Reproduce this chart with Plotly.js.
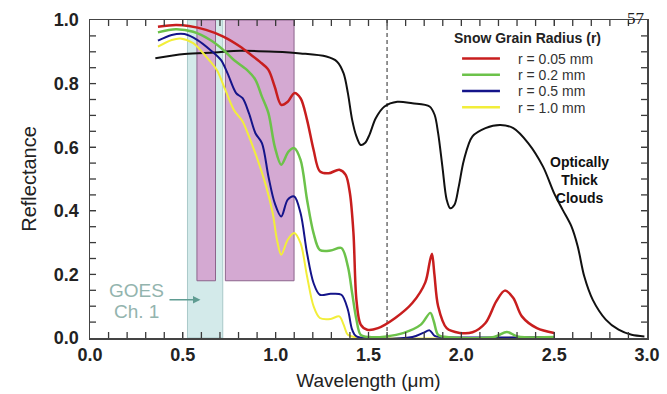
<!DOCTYPE html>
<html>
<head>
<meta charset="utf-8">
<script src="https://cdn.plot.ly/plotly-3.0.1.min.js"></script>
<style>html,body{margin:0;padding:0;background:#fff;}#chart{width:667px;height:394px;}</style>
</head>
<body>
<div id="chart"></div>
<script>
// ---- data ----
const cloudX = [0.352,0.509,0.671,0.81,0.995,1.134,1.273,1.331,1.366,1.389,1.412,1.435,1.458,1.481,1.505,1.539,1.586,1.655,1.736,1.829,1.856,1.875,1.898,1.921,1.94,1.963,1.986,2.014,2.06,2.13,2.21,2.28,2.36,2.44,2.5,2.546,2.593,2.627,2.662,2.708,2.778,2.847,2.917,2.986];
const cloudY = [0.880,0.893,0.898,0.903,0.900,0.895,0.885,0.869,0.832,0.770,0.686,0.634,0.607,0.613,0.639,0.691,0.728,0.743,0.738,0.728,0.702,0.644,0.539,0.435,0.408,0.419,0.476,0.560,0.634,0.660,0.670,0.660,0.613,0.539,0.455,0.403,0.351,0.288,0.194,0.120,0.058,0.026,0.010,0.005];

const r005X = [0.366,0.463,0.532,0.625,0.718,0.81,0.868,0.914,0.961,0.995,1.03,1.065,1.1,1.134,1.169,1.204,1.238,1.285,1.343,1.377,1.4,1.419,1.435,1.458,1.493,1.551,1.644,1.736,1.806,1.83,1.842,1.855,1.875,1.921,1.991,2.06,2.13,2.188,2.234,2.28,2.326,2.407,2.5];
const r005Y = [0.979,0.984,0.981,0.969,0.948,0.916,0.890,0.869,0.843,0.790,0.733,0.743,0.770,0.754,0.686,0.592,0.524,0.518,0.529,0.513,0.455,0.330,0.120,0.042,0.026,0.031,0.063,0.110,0.175,0.240,0.265,0.200,0.100,0.031,0.016,0.018,0.047,0.115,0.149,0.126,0.068,0.031,0.016];

const r02X = [0.366,0.463,0.556,0.648,0.718,0.775,0.845,0.891,0.926,0.961,0.995,1.03,1.069,1.1,1.134,1.169,1.204,1.238,1.296,1.354,1.389,1.412,1.435,1.458,1.505,1.597,1.69,1.782,1.833,1.852,1.875,1.921,2.176,2.245,2.303,2.5];
const r02Y = [0.961,0.971,0.963,0.937,0.906,0.874,0.843,0.812,0.759,0.707,0.602,0.545,0.586,0.597,0.560,0.435,0.330,0.277,0.275,0.283,0.225,0.141,0.058,0.010,0.003,0.005,0.016,0.042,0.079,0.052,0.010,0.003,0.003,0.019,0.005,0.003];

const r05X = [0.366,0.44,0.509,0.579,0.648,0.706,0.741,0.787,0.822,0.856,0.891,0.926,0.961,0.995,1.03,1.065,1.1,1.134,1.169,1.204,1.238,1.296,1.354,1.389,1.412,1.435,1.736,1.794,1.829,1.856,1.898,2.5];
const r05Y = [0.935,0.953,0.956,0.937,0.906,0.874,0.832,0.770,0.754,0.707,0.644,0.613,0.508,0.424,0.382,0.435,0.445,0.393,0.267,0.173,0.136,0.139,0.136,0.089,0.026,0.005,0.003,0.016,0.024,0.007,0.003,0.003];

const r10X = [0.366,0.44,0.486,0.556,0.625,0.683,0.729,0.775,0.822,0.856,0.903,0.949,0.984,1.007,1.03,1.065,1.1,1.134,1.169,1.204,1.238,1.296,1.343,1.366,1.389,1.424,2.5];
const r10Y = [0.916,0.937,0.942,0.927,0.885,0.843,0.780,0.717,0.681,0.634,0.560,0.476,0.393,0.309,0.262,0.309,0.330,0.298,0.194,0.100,0.063,0.060,0.068,0.042,0.010,0.003,0.003];

const seriesNames = ['r = 0.05 mm','r = 0.2 mm','r = 0.5 mm','r = 1.0 mm'];
const legendTitle = 'Snow Grain Radius (r)';
const cloudLabel = 'Optically<br>Thick<br>Clouds';
const goesLabel = ['GOES','Ch. 1'];
const goesBand = [0.525, 0.715];
const visBands = [[0.576, 0.676], [0.729, 1.099]];
const visBandBottom = 0.18;
const markerLine = 1.6;
const xLabelTicks = [0.0, 0.5, 1.0, 1.5, 2.0, 2.5, 3.0];
const yLabelTicks = [0.0, 0.2, 0.4, 0.6, 0.8, 1.0];
const xTickStep = 0.1, yTickStep = 0.05;

// ---- styling ----
const colors = ['#c81e1e','#6cc24a','#14148a','#f2ee3a'];
const widths = [2.5,2.5,2,2];
const xs = [r005X, r02X, r05X, r10X];
const ys = [r005Y, r02Y, r05Y, r10Y];
const tickColor = '#3a3a3a';

const traces = [{
  x: cloudX, y: cloudY, type: 'scatter', mode: 'lines',
  line: {color: '#111111', width: 2, shape: 'spline', smoothing: 0.9},
  showlegend: false, hoverinfo: 'skip'
}];
for (let i = 3; i >= 0; i--) {
  traces.push({
    x: xs[i], y: ys[i], type: 'scatter', mode: 'lines', name: seriesNames[i],
    line: {color: colors[i], width: widths[i], shape: 'spline', smoothing: 0.9},
    showlegend: false, hoverinfo: 'skip'
  });
}

const shapes = [];
shapes.push({type:'rect', xref:'x', yref:'y', x0: goesBand[0], x1: goesBand[1], y0: 0, y1: 1,
  fillcolor:'#d3eaea', line:{color:'#a9c9c9', width:1}, layer:'below'});
visBands.forEach(b => shapes.push({type:'rect', xref:'x', yref:'y', x0: b[0], x1: b[1], y0: visBandBottom, y1: 1,
  fillcolor:'#d4a9d2', line:{color:'#8c648c', width:1}, layer:'below'}));
shapes.push({type:'line', xref:'x', yref:'y', x0: markerLine, x1: markerLine, y0: 0, y1: 1,
  line:{color:'#707070', width:1.5, dash:'4px,3px'}, layer:'below'});

// inward tick marks on all four sides (drawn as shapes)
const tlx = 6 / 318, tly = 6 / 557;
for (let k = 1; k < Math.round(3 / xTickStep); k++) {
  const v = +(k * xTickStep).toFixed(2);
  shapes.push({type:'line', xref:'x', yref:'paper', x0: v, x1: v, y0: 0, y1: tlx, line:{color: tickColor, width: 1.3}});
  shapes.push({type:'line', xref:'x', yref:'paper', x0: v, x1: v, y0: 1, y1: 1 - tlx, line:{color: tickColor, width: 1.3}});
}
for (let k = 1; k < Math.round(1 / yTickStep); k++) {
  const v = +(k * yTickStep).toFixed(2);
  shapes.push({type:'line', xref:'paper', yref:'y', x0: 0, x1: tly, y0: v, y1: v, line:{color: tickColor, width: 1.3}});
  shapes.push({type:'line', xref:'paper', yref:'y', x0: 1, x1: 1 - tly, y0: v, y1: v, line:{color: tickColor, width: 1.3}});
}

// legend (manual)
const legX0 = 0.668, legX1 = 0.736, legTextX = 0.767;
const legY = [0.879, 0.828, 0.777, 0.726];
const annotations = [];
annotations.push({xref:'paper', yref:'paper', x: 0.786, y: 0.943, text: '<b>'+legendTitle+'</b>', showarrow:false,
  font:{family:'Liberation Sans, Arial, sans-serif', size:14, color:'#222'}, xanchor:'center', yanchor:'middle'});
seriesNames.forEach((n, i) => {
  shapes.push({type:'line', xref:'paper', yref:'paper', x0: legX0, x1: legX1, y0: legY[i], y1: legY[i],
    line:{color: colors[i], width: 2.5}});
  annotations.push({xref:'paper', yref:'paper', x: legTextX, y: legY[i], text: n, showarrow:false,
    font:{family:'Liberation Sans, Arial, sans-serif', size:14, color:'#333'}, xanchor:'left', yanchor:'middle',
    height: 15, borderpad: 0});
});

annotations.push({xref:'x', yref:'y', x: 2.635, y: 0.497, text: '<b>'+cloudLabel+'</b>', showarrow:false,
  font:{family:'Liberation Sans, Arial, sans-serif', size:14, color:'#111'}, align:'center', xanchor:'center', yanchor:'middle'});
annotations.push({xref:'x', yref:'y', x: 0.248, y: 0.148, text: goesLabel[0], showarrow:false,
  font:{family:'Liberation Sans, Arial, sans-serif', size:19, color:'#93b4ae'}, xanchor:'center', yanchor:'middle'});
annotations.push({xref:'x', yref:'y', x: 0.248, y: 0.082, text: goesLabel[1], showarrow:false,
  font:{family:'Liberation Sans, Arial, sans-serif', size:19, color:'#93b4ae'}, xanchor:'center', yanchor:'middle'});
annotations.push({xref:'x', yref:'y', axref:'x', ayref:'y', x: 0.595, y: 0.12, ax: 0.42, ay: 0.12, text: '',
  showarrow:true, arrowhead:2, arrowsize:1, arrowwidth:1.5, arrowcolor:'#5f9c92'});
annotations.push({xref:'paper', yref:'paper', x: 0.98, y: 1.005, text: '57', showarrow:false,
  font:{family:'Liberation Serif, DejaVu Serif, serif', size:17, color:'#222'}, xanchor:'center', yanchor:'middle'});

const axisCommon = {
  showline: true, linecolor: '#444', linewidth: 1.5, mirror: 'ticks',
  ticks: 'inside', ticklen: 6, tickwidth: 1.3, tickcolor: tickColor,
  showgrid: false, zeroline: false, tickformat: '.1f',
  tickfont: {family: 'Liberation Sans, Arial, sans-serif', size: 18, color: '#222', weight: 'bold'}
};

const layout = {
  width: 667, height: 394,
  margin: {l: 90, r: 20, t: 20, b: 56},
  paper_bgcolor: '#fff', plot_bgcolor: '#fff',
  showlegend: false,
  xaxis: Object.assign({}, axisCommon, {
    range: [0, 3], tickmode: 'array', tickvals: xLabelTicks,
    title: {text: 'Wavelength (μm)', font: {family: 'Liberation Sans, Arial, sans-serif', size: 19, color: '#222'}, standoff: 9}
  }),
  yaxis: Object.assign({}, axisCommon, {
    range: [0, 1], tickmode: 'array', tickvals: yLabelTicks,
    ticklabelstandoff: 6,
    title: {text: 'Reflectance', font: {family: 'Liberation Sans, Arial, sans-serif', size: 20, color: '#222'}, standoff: 12}
  }),
  shapes: shapes,
  annotations: annotations
};

Plotly.newPlot('chart', traces, layout, {displayModeBar: false, staticPlot: true});
</script>
</body>
</html>
